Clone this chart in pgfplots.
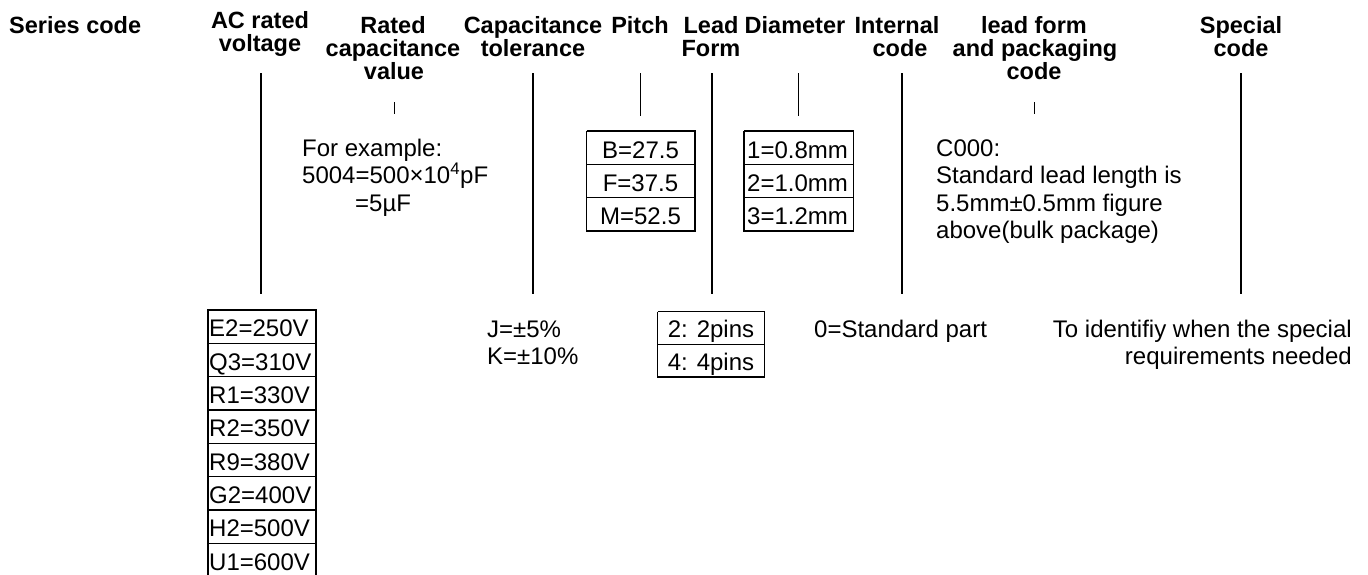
\documentclass[border=0pt]{standalone}
\usepackage{pgfplots}
\pgfplotsset{compat=1.18}
\usepackage{fontspec}
\setmainfont{Liberation Sans}
\tikzset{
  hd/.style={font=\bfseries\fontsize{23.5bp}{28bp}\selectfont,anchor=base,inner sep=0pt},
  bd/.style={font=\fontsize{24bp}{28bp}\selectfont,anchor=base west,inner sep=0pt}}
\begin{document}
\begin{tikzpicture}
\begin{axis}[x=1bp,y=1bp,y dir=reverse,xmin=0,xmax=1368,ymin=0,ymax=575,
  hide axis,scale only axis,clip=false]
% long leader lines
\addplot[black,line width=2bp] coordinates {(261,73) (261,294)};
\addplot[black,line width=2bp] coordinates {(533,73) (533,294)};
\addplot[black,line width=2bp] coordinates {(711.5,73) (711.5,294)};
\addplot[black,line width=2bp] coordinates {(902,73) (902,294)};
\addplot[black,line width=2bp] coordinates {(1241,73) (1241,294)};
% short leader lines
\addplot[black,line width=1.6bp] coordinates {(640.5,73) (640.5,116)};
\addplot[black,line width=1.8bp] coordinates {(798.5,73) (798.5,116)};
% small ticks
\addplot[black,line width=1bp] coordinates {(394,102) (394,114)};
\addplot[black,line width=1bp] coordinates {(1034,102) (1034,114)};
% pitch box
\addplot[black,line width=1.5bp] coordinates {(586.5,131) (695,131) (695,231) (586.5,231) (586.5,131)};
\addplot[black,line width=1.5bp] coordinates {(586.5,164.3) (695,164.3)};
\addplot[black,line width=1.5bp] coordinates {(586.5,197.7) (695,197.7)};
% diameter box
\addplot[black,line width=1.5bp] coordinates {(744,131) (853.5,131) (853.5,231) (744,231) (744,131)};
\addplot[black,line width=1.5bp] coordinates {(744,164.3) (853.5,164.3)};
\addplot[black,line width=1.5bp] coordinates {(744,197.7) (853.5,197.7)};
% lead form box
\addplot[black,line width=1.5bp] coordinates {(657.5,311.5) (764.5,311.5) (764.5,377) (657.5,377) (657.5,311.5)};
\addplot[black,line width=1.5bp] coordinates {(657.5,344.3) (764.5,344.3)};
% AC voltage box
\addplot[black,line width=1.5bp] coordinates {(208,580) (208,310) (316,310) (316,580)};
\addplot[black,line width=1.5bp] coordinates {(208,343.3) (316,343.3)};
\addplot[black,line width=1.5bp] coordinates {(208,376.7) (316,376.7)};
\addplot[black,line width=1.5bp] coordinates {(208,410) (316,410)};
\addplot[black,line width=1.5bp] coordinates {(208,443.3) (316,443.3)};
\addplot[black,line width=1.5bp] coordinates {(208,476.7) (316,476.7)};
\addplot[black,line width=1.5bp] coordinates {(208,510) (316,510)};
\addplot[black,line width=1.5bp] coordinates {(208,543.3) (316,543.3)};
% headings
\node[hd,anchor=base west] at (axis cs:9,33) {Series code};
\node[hd] at (axis cs:260,28) {AC rated};
\node[hd] at (axis cs:260,51) {voltage};
\node[hd] at (axis cs:393,33) {Rated};
\node[hd] at (axis cs:393,56) {capacitance};
\node[hd] at (axis cs:394,79) {value};
\node[hd] at (axis cs:533,33) {Capacitance};
\node[hd] at (axis cs:533,56) {tolerance};
\node[hd] at (axis cs:640,33) {Pitch};
\node[hd] at (axis cs:711,33) {Lead};
\node[hd] at (axis cs:711,56) {Form};
\node[hd] at (axis cs:795,33) {Diameter};
\node[hd] at (axis cs:897,33) {Internal};
\node[hd] at (axis cs:900,56) {code};
\node[hd] at (axis cs:1034,33) {lead form};
\node[hd] at (axis cs:1035,56) {and packaging};
\node[hd] at (axis cs:1034,79) {code};
\node[hd] at (axis cs:1241,33) {Special};
\node[hd] at (axis cs:1241,56) {code};
% body text
\node[bd] at (axis cs:302,156) {For example:};
\node[bd] at (axis cs:302,183.5) {5004=500×10\textsuperscript{4}pF};
\node[bd] at (axis cs:355,211) {=5µF};
\node[bd] at (axis cs:936,156) {C000:};
\node[bd] at (axis cs:936,183.5) {Standard lead length is};
\node[bd] at (axis cs:936,211) {5.5mm±0.5mm figure};
\node[bd] at (axis cs:936,238.5) {above(bulk package)};
\node[bd,anchor=base] at (axis cs:640.5,158) {B=27.5};
\node[bd,anchor=base] at (axis cs:640.5,191.3) {F=37.5};
\node[bd,anchor=base] at (axis cs:640.5,224.7) {M=52.5};
\node[bd] at (axis cs:747,158) {1=0.8mm};
\node[bd] at (axis cs:747,191.3) {2=1.0mm};
\node[bd] at (axis cs:747,224.7) {3=1.2mm};
\node[bd] at (axis cs:487,337) {J=±5\%};
\node[bd] at (axis cs:487,364) {K=±10\%};
\node[bd,anchor=base] at (axis cs:711,337.5) {2: 2pins};
\node[bd,anchor=base] at (axis cs:711,370.5) {4: 4pins};
\node[bd] at (axis cs:814,337) {0=Standard part};
\node[bd,anchor=base east] at (axis cs:1352,337) {To identifiy when the special};
\node[bd,anchor=base east] at (axis cs:1352,364) {requirements needed};
\node[bd] at (axis cs:209,336.8) {E2=250V};
\node[bd] at (axis cs:209,370.2) {Q3=310V};
\node[bd] at (axis cs:209,403.5) {R1=330V};
\node[bd] at (axis cs:209,436.8) {R2=350V};
\node[bd] at (axis cs:209,470.2) {R9=380V};
\node[bd] at (axis cs:209,503.5) {G2=400V};
\node[bd] at (axis cs:209,536.8) {H2=500V};
\node[bd] at (axis cs:209,570.2) {U1=600V};
\end{axis}
\pgfresetboundingbox
\path (0,0) rectangle (1368bp,575bp);
\end{tikzpicture}
\end{document}
